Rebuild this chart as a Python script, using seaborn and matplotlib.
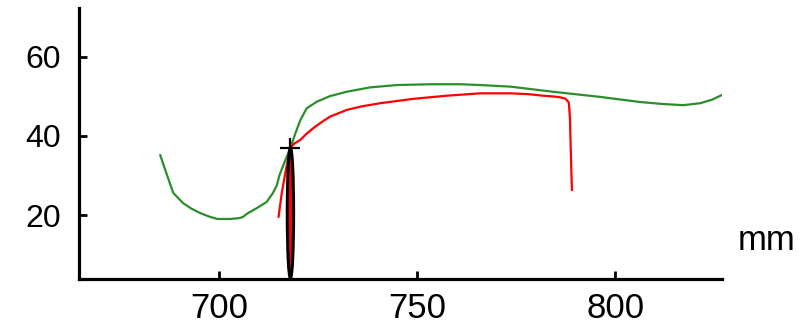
import matplotlib
matplotlib.use("Agg")
import matplotlib.pyplot as plt
import seaborn as sns
import pandas as pd
from matplotlib.patches import Ellipse

sns.set_theme(style="white")
plt.rcParams['font.family'] = ['Liberation Sans', 'DejaVu Sans']

# curva verde
green_x = [685.1, 686.8, 688.4, 690.9, 693.0, 695.2, 697.5, 699.5, 702.8, 705.0,
           706.0, 707.0, 709.6, 712.0, 713.6, 714.6, 715.2, 716.6, 718.0, 719.3,
           720.5, 722.1, 724.7, 728.0, 732.2, 738.1, 744.9, 753.3, 760.9, 765.9,
           773.5, 784.3, 796.2, 806.3, 812.0, 817.2, 821.5, 824.5, 827.0]
green_y = [35.2, 30.2, 25.6, 23.0, 21.6, 20.5, 19.6, 19.0, 19.0, 19.2,
           19.5, 20.3, 21.8, 23.3, 25.6, 27.6, 30.0, 33.6, 37.0, 40.8,
           44.0, 47.0, 48.7, 50.1, 51.2, 52.3, 52.9, 53.1, 53.1, 52.9,
           52.5, 51.2, 49.9, 48.6, 48.1, 47.8, 48.3, 49.2, 50.4]

# curva vermelha
red_x = [715.0, 715.8, 716.7, 717.4, 718.0, 719.0, 720.5, 722.0, 723.8, 726.0,
         728.0, 732.2, 736.0, 740.7, 749.0, 757.5, 765.9, 773.5, 778.0, 781.8,
         784.5, 786.1, 787.3, 787.8, 788.3, 788.6, 788.6, 788.9, 789.1]
red_y = [19.5, 25.5, 30.6, 34.2, 37.0, 38.1, 39.0, 40.5, 42.0, 43.6,
         44.9, 46.6, 47.5, 48.3, 49.4, 50.2, 50.8, 50.8, 50.6, 50.2,
         50.0, 49.8, 49.5, 49.1, 48.5, 47.4, 41.5, 33.0, 26.3]

# ponto marcado e elipse
mark_x = [718.0]
mark_y = [37.0]
ell_center = (718.0, 20.5)
ell_width = 1.6
ell_height = 33.0

df_green = pd.DataFrame({'x': green_x, 'y': green_y})
df_red = pd.DataFrame({'x': red_x, 'y': red_y})

fig = plt.figure(figsize=(8.12, 3.27), dpi=100)
ax = fig.add_axes([79 / 812, 1 - 279 / 327, (722 - 79) / 812, (279 - 8) / 327])

sns.lineplot(data=df_green, x='x', y='y', sort=False, color='#2a8f2a', lw=1.6, ax=ax, zorder=2)
sns.lineplot(data=df_red, x='x', y='y', sort=False, color='#ff0000', lw=1.6, ax=ax, zorder=3)

ell = Ellipse(ell_center, ell_width, ell_height, facecolor='#ff0000', edgecolor='black', lw=2.2, zorder=4)
ax.add_patch(ell)
ax.scatter(mark_x, mark_y, marker='+', s=220, color='black', linewidths=1.6, zorder=5)

ax.set_xlim(664.6, 827)
ax.set_ylim(3.8, 72.4)
ax.set_xticks([700, 750, 800])
ax.set_yticks([20, 40, 60])
ax.set_xlabel('')
ax.set_ylabel('')

sns.despine(ax=ax)
for s in ['left', 'bottom']:
    ax.spines[s].set_linewidth(2.3)
    ax.spines[s].set_color('black')
ax.tick_params(axis='both', direction='in', length=6, width=2, colors='black',
               bottom=True, left=True)
ax.tick_params(axis='x', labelsize=25, pad=9)
ax.tick_params(axis='y', labelsize=23, pad=13)

fig.text(767 / 812, 1 - 241 / 327, 'mm', fontsize=25, ha='center', va='center', color='black')

fig.savefig('out.png', dpi=100)
